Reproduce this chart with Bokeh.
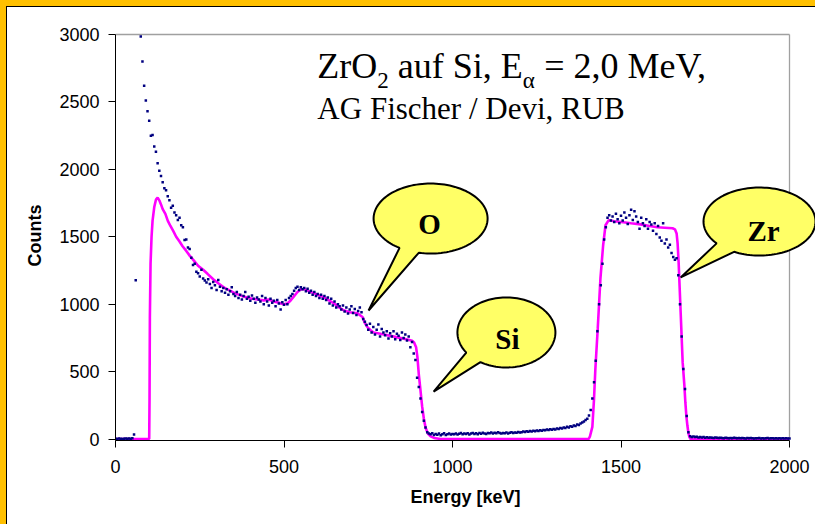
import math
from bokeh.plotting import figure
from bokeh.models import Range1d, Label, FixedTicker
from bokeh.embed import file_html
from bokeh.resources import INLINE

# ---------------- data ----------------
NA = float("nan")          # off-scale channels (above 3000 counts)
CHANNEL_KEV = 5            # energy width of one channel

# measured RBS spectrum, one value per 5 keV channel, 0 ... 2000 keV
counts = [
    2, 0, 3, 1, 0, 2, 4, 1, 3, 2,                                   # 0
    5, 33, 1177, NA, NA, 2985, 2800, 2620, 2510, 2430,              # 50
    2360, 2250, 2255, 2170, 2130, 2045, 1990, 1950, 1905, 1860,     # 100
    1845, 1800, 1770, 1715, 1730, 1680, 1660, 1625, 1640, 1585,     # 150
    1570, 1475, 1480, 1420, 1410, 1345, 1290, 1300, 1240, 1230,     # 200
    1205, 1255, 1190, 1175, 1160, 1185, 1150, 1120, 1165, 1140,     # 250
    1105, 1180, 1130, 1095, 1120, 1085, 1110, 1070, 1095, 1125,     # 300
    1075, 1060, 1090, 1045, 1070, 1035, 1060, 1090, 1040, 1055,     # 350
    1025, 1065, 1040, 1010, 1050, 1035, 1020, 1060, 1000, 1045,     # 400
    1020, 990, 1040, 1010, 1025, 985, 1030, 1005, 960, 1015,        # 450
    995, 1030, 1000, 1045, 1060, 1075, 1100, 1120, 1130, 1105,      # 500
    1125, 1110, 1120, 1095, 1115, 1085, 1100, 1070, 1090, 1060,     # 550
    1075, 1045, 1070, 1040, 1060, 1030, 1050, 1005, 1040, 990,      # 600
    1020, 975, 1000, 985, 960, 990, 945, 975, 930, 960,             # 650
    985, 935, 965, 920, 950, 975, 940, 890, 870, 845,               # 700
    810, 855, 790, 830, 775, 810, 850, 760, 815, 790,               # 750
    770, 800, 745, 785, 760, 800, 740, 780, 765, 735,               # 800
    790, 750, 775, 730, 760, 680, 720, 635, 585, 455,               # 850
    385, 300, 200, 135, 85, 50, 40, 35, 42, 30,                     # 900
    38, 32, 40, 28, 36, 42, 30, 35, 40, 33,                         # 950
    38, 36, 41, 33, 39, 44, 35, 40, 37, 43,                         # 1000
    34, 40, 45, 38, 42, 36, 44, 39, 47, 41,                         # 1050
    38, 45, 42, 48, 40, 46, 43, 50, 44, 41,                         # 1100
    45, 42, 48, 41, 46, 50, 44, 49, 46, 52,                         # 1150
    48, 50, 55, 52, 57, 54, 59, 56, 61, 58,                         # 1200
    63, 60, 65, 62, 67, 64, 70, 66, 72, 69,                         # 1250
    75, 71, 78, 74, 82, 78, 86, 82, 90, 86,                         # 1300
    95, 91, 100, 97, 108, 104, 115, 122, 130, 140,                  # 1350
    150, 175, 215, 300, 420, 580, 800, 1000, 1140, 1300,            # 1400
    1480, 1570, 1640, 1660, 1620, 1650, 1610, 1670, 1630, 1600,     # 1450
    1655, 1620, 1680, 1640, 1595, 1660, 1700, 1625, 1690, 1650,     # 1500
    1610, 1560, 1640, 1600, 1580, 1630, 1560, 1610, 1590, 1545,     # 1550
    1600, 1520, 1580, 1495, 1470, 1600, 1450, 1480, 1420, 1440,     # 1600
    1380, 1350, 1330, 1340, 1215, 1000, 760, 520, 370, 170,         # 1650
    50, 20, 15, 18, 14, 16, 12, 15, 11, 14,                         # 1700
    10, 13, 9, 12, 10, 8, 11, 9, 7, 10,                             # 1750
    8, 6, 9, 7, 5, 8, 6, 9, 7, 5,                                   # 1800
    7, 5, 8, 6, 4, 7, 5, 8, 6, 4,                                   # 1850
    6, 5, 7, 4, 6, 3, 5, 7, 4, 6,                                   # 1900
    5, 3, 6, 4, 5, 3, 6, 4, 5, 3,                                   # 1950
    4,                                                              # 2000
]
energy_keV = [i * CHANNEL_KEV for i in range(len(counts))]

# simulated spectrum (magenta curve)
sim_energy_keV = [
    0, 100, 101, 102, 104, 107, 110, 115, 120, 125,
    130, 135, 140, 148, 155, 163, 172, 180, 190, 199,
    210, 220, 232, 245, 260, 273, 290, 305, 321, 340,
    355, 371, 390, 405, 421, 440, 455, 469, 485, 499,
    510, 519, 530, 540, 550, 560, 575, 588, 600, 617,
    632, 647, 660, 677, 695, 718, 733, 740, 748, 758,
    766, 790, 816, 840, 866, 880, 886, 892, 896, 900,
    905, 910, 915, 920, 927, 935, 945, 964, 1404, 1408,
    1412, 1415, 1420, 1424, 1431, 1439, 1447, 1454, 1463, 1480,
    1507, 1530, 1558, 1585, 1608, 1630, 1653, 1660, 1665, 1668,
    1671, 1677, 1683, 1688, 1691, 1694, 1697, 1700, 1703, 1706,
    2000,
]
sim_counts = [
    0, 0, 300, 900, 1300, 1500, 1620, 1720, 1775, 1790,
    1770, 1740, 1705, 1670, 1620, 1580, 1540, 1500, 1465, 1430,
    1395, 1360, 1325, 1285, 1255, 1225, 1185, 1155, 1125, 1100,
    1080, 1065, 1050, 1040, 1035, 1028, 1035, 1020, 1010, 1000,
    1005, 1025, 1060, 1090, 1110, 1112, 1095, 1082, 1070, 1052,
    1030, 1008, 982, 955, 940, 932, 905, 860, 828, 805,
    790, 778, 765, 752, 738, 728, 715, 680, 605, 480,
    360, 240, 150, 85, 40, 20, 8, 0, 0, 20,
    60, 90, 300, 523, 820, 1192, 1437, 1585, 1622, 1615,
    1607, 1600, 1592, 1580, 1570, 1567, 1563, 1555, 1525, 1450,
    1311, 940, 568, 400, 271, 170, 100, 45, 15, 0,
    0,
]

x_ticks = [0, 500, 1000, 1500, 2000]
y_ticks = [0, 500, 1000, 1500, 2000, 2500, 3000]
X_MAX = 2000
Y_MAX = 3000

# callouts: label, centre (keV, counts), tail tip (keV, counts)
callout_labels = ["O", "Si", "Zr"]
callout_centre = [(935, 1635), (1160, 790), (1911, 1613)]
callout_tip = [(751, 953), (944, 352), (1677, 1198)]
callout_text_pos = [(932, 1598), (1163, 745), (1923, 1546)]

# ---------------- layout ----------------
W, H = 808, 517
FRAME_L, FRAME_T, FRAME_B = 108, 23, 84
FRAME_W = W - FRAME_L                 # 700 px
FRAME_H = H - FRAME_T - FRAME_B       # 410 px
PX_PER_KEV = 674 / X_MAX
PX_PER_COUNT = 404.5 / Y_MAX
x_start = 0
x_end = x_start + FRAME_W / PX_PER_KEV
y_start = -1.5 / PX_PER_COUNT
y_end = y_start + FRAME_H / PX_PER_COUNT

p = figure(width=W, height=H, output_backend="svg", toolbar_location=None,
           x_range=Range1d(x_start, x_end), y_range=Range1d(y_start, y_end),
           min_border_left=FRAME_L, min_border_right=0,
           min_border_top=FRAME_T, min_border_bottom=FRAME_B)
p.margin = (7, 0, 0, 7)
p.styles = {"box-shadow": "0 0 0 1px #000000, 0 0 0 7px #FFC000"}
p.outline_line_color = None
p.grid.visible = False
p.background_fill_color = "white"
p.border_fill_color = "white"

AX_FONT = "Liberation Sans"
for ax in (p.xaxis[0], p.yaxis[0]):
    ax.minor_tick_line_color = None
    ax.major_tick_in = 0
    ax.major_tick_out = 7
    ax.axis_line_color = "black"
    ax.major_tick_line_color = "black"
    ax.major_label_text_font = AX_FONT
    ax.major_label_text_font_size = "18px"
    ax.major_label_text_color = "black"
    ax.axis_label_text_font = AX_FONT
    ax.axis_label_text_font_size = "18px"
    ax.axis_label_text_font_style = "bold"
    ax.axis_label_text_color = "black"

xa = p.xaxis[0]
xa.bounds = (0, X_MAX)
xa.ticker = FixedTicker(ticks=x_ticks)
xa.axis_label = "Energy [keV]"
xa.major_label_standoff = 12
xa.axis_label_standoff = 11

ya = p.yaxis[0]
ya.bounds = (y_start, Y_MAX)
ya.ticker = FixedTicker(ticks=y_ticks)
ya.axis_label = "Counts"
ya.major_label_standoff = 9
ya.axis_label_standoff = 11

# plot-area border (top and right)
p.segment(x0=[0, X_MAX], y0=[Y_MAX, 0], x1=[X_MAX, X_MAX], y1=[Y_MAX, Y_MAX],
          line_color="#A0A0A0", line_width=1.3)

# simulation and data
p.line(sim_energy_keV, sim_counts, line_color="#FF00FF", line_width=2.6)
p.scatter(energy_keV, counts, marker="square", size=2.5,
          fill_color="#000080", line_color=None)

# ---------------- callouts ----------------
BUBBLE_R = [(57, 35), (49, 35), (56, 34)]          # ellipse radii in px
BUBBLE_TAIL = [(102, 123), (122, 145), (117, 140)]  # tail base angles (deg, y down)


def callout_shape(centre, radii, tail, tip, n=120):
    cx, cy = centre
    rx, ry = radii
    a_lo, a_hi = tail
    xs, ys = [], []
    for k in range(n + 1):
        t = math.radians(a_hi + (a_lo + 360 - a_hi) * k / n)
        xs.append(cx + rx * math.cos(t) / PX_PER_KEV)
        ys.append(cy - ry * math.sin(t) / PX_PER_COUNT)
    xs.append(tip[0])
    ys.append(tip[1])
    return xs, ys


for i, lab in enumerate(callout_labels):
    bx, by = callout_shape(callout_centre[i], BUBBLE_R[i], BUBBLE_TAIL[i], callout_tip[i])
    p.patch(bx, by, fill_color="#FFFF66", line_color="black", line_width=2)
    tx, ty = callout_text_pos[i]
    p.add_layout(Label(x=tx, y=ty, text=lab, text_font="Liberation Serif",
                       text_font_size="29px", text_font_style="bold",
                       text_align="center", text_baseline="middle", text_color="black"))

# ---------------- title text ----------------
TIMES_W = {'Z': 611, 'r': 333, 'O': 722, ' ': 250, 'a': 444, 'u': 500, 'f': 333,
           'S': 556, 'i': 278, ',': 250, 'E': 611, '=': 564, '2': 500, '0': 500,
           'M': 889, 'e': 444, 'V': 722, 'α': 540}


def text_w(s, size):
    return sum(TIMES_W.get(c, 500) for c in s) * size / 1000.0


TITLE_X, TITLE_Y = 599, 2764      # baseline start of first line
LINE2_Y = 2452
F1, FS, SUB_DROP = 36, 23, 14
pieces = [("ZrO", F1, 0), ("2", FS, -SUB_DROP), (" auf Si, E", F1, 0),
          ("α", FS, -SUB_DROP), (" = 2,0 MeV,", F1, 0)]
xoff = 0.0
for txt, size, yoff in pieces:
    shown = txt.lstrip(" ")
    lead = text_w(txt[:len(txt) - len(shown)], size)
    p.add_layout(Label(x=TITLE_X, y=TITLE_Y, x_offset=xoff + lead, y_offset=yoff, text=shown,
                       text_font="Liberation Serif", text_font_size=f"{size}px",
                       text_align="left", text_baseline="alphabetic", text_color="black"))
    xoff += text_w(txt, size)

p.add_layout(Label(x=TITLE_X, y=LINE2_Y, text="AG Fischer / Devi, RUB",
                   text_font="Liberation Serif", text_font_size="31px",
                   text_align="left", text_baseline="alphabetic", text_color="black"))

open("out.html", "w").write(file_html(p, INLINE))
